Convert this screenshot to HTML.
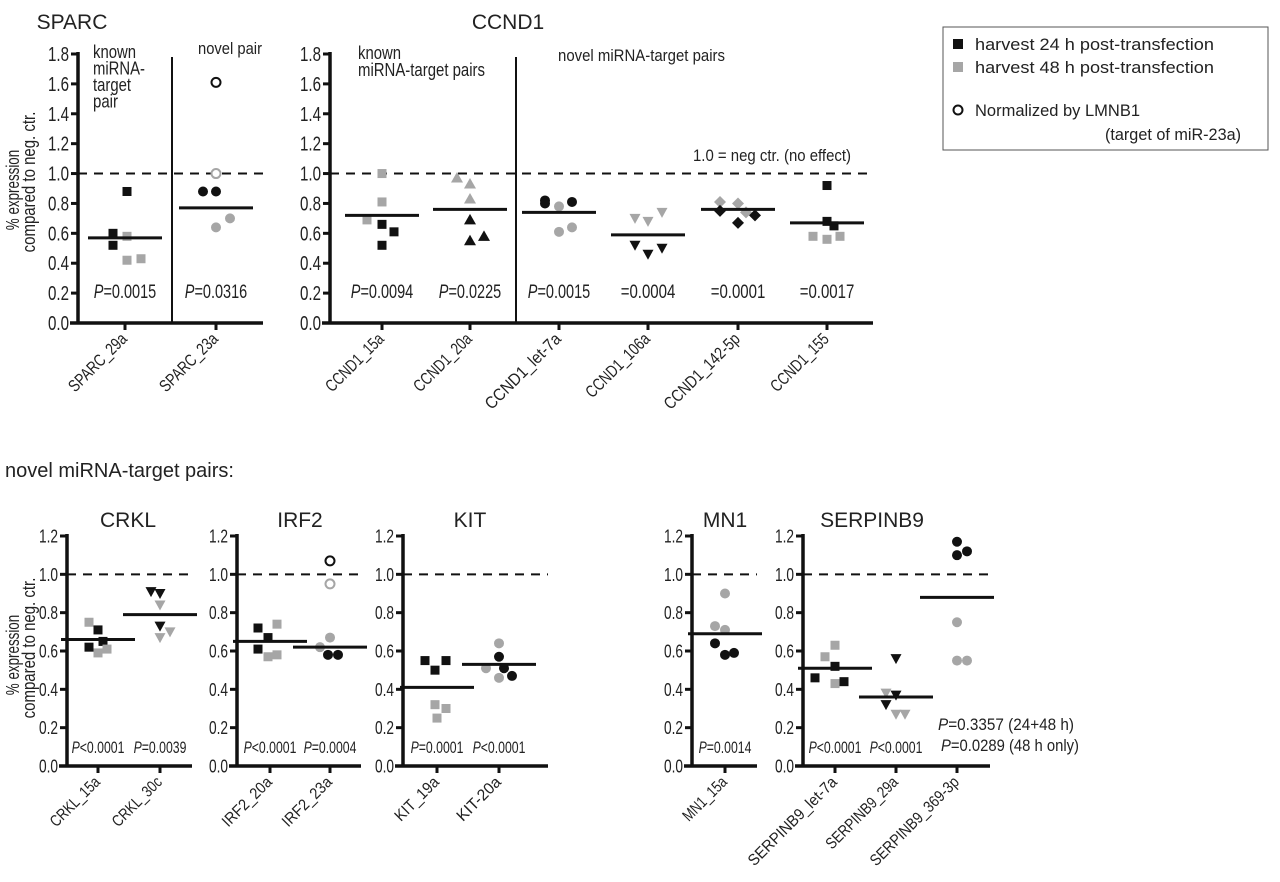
<!DOCTYPE html>
<html><head><meta charset="utf-8"><style>
body{margin:0;background:#fff}
svg{display:block;font-family:"Liberation Sans",sans-serif}
</style></head><body>
<svg id="fig" width="1280" height="882" viewBox="0 0 1280 882"></svg>
<script>
// ---- data ----
const categories = ["SPARC_29a","SPARC_23a","CCND1_15a","CCND1_20a","CCND1_let-7a","CCND1_106a","CCND1_142-5p","CCND1_155",
 "CRKL_15a","CRKL_30c","IRF2_20a","IRF2_23a","KIT_19a","KIT-20a","MN1_15a","SERPINB9_let-7a","SERPINB9_29a","SERPINB9_369-3p"];
const values = [
 [0.88,0.60,0.52,0.58,0.42,0.43],
 [1.61,1.00,0.88,0.88,0.64,0.70],
 [1.00,0.81,0.69,0.66,0.61,0.52],
 [0.97,0.93,0.83,0.69,0.55,0.58],
 [0.82,0.80,0.78,0.81,0.61,0.64],
 [0.70,0.68,0.74,0.52,0.46,0.50],
 [0.81,0.80,0.74,0.75,0.67,0.72],
 [0.92,0.68,0.65,0.58,0.56,0.58],
 [0.75,0.71,0.65,0.62,0.59,0.61],
 [0.91,0.90,0.84,0.73,0.67,0.70],
 [0.72,0.74,0.67,0.61,0.57,0.58],
 [1.07,0.95,0.67,0.62,0.58,0.58],
 [0.55,0.55,0.50,0.32,0.30,0.25],
 [0.64,0.57,0.51,0.51,0.46,0.47],
 [0.90,0.73,0.71,0.64,0.58,0.59],
 [0.63,0.57,0.52,0.46,0.43,0.44],
 [0.56,0.38,0.37,0.32,0.27,0.27],
 [1.17,1.10,1.12,0.75,0.55,0.55]];
const shades = [
 ["k","k","k","g","g","g"],["ok","og","k","k","g","g"],["g","g","g","k","k","k"],["g","g","g","k","k","k"],
 ["k","k","g","k","g","g"],["g","g","g","k","k","k"],["g","g","g","k","k","k"],["k","k","k","g","g","g"],
 ["g","k","k","k","g","g"],["k","k","g","k","g","g"],["k","g","k","k","g","g"],["ok","og","g","g","k","k"],
 ["k","k","k","g","g","g"],["g","k","g","k","g","k"],["g","g","g","k","k","k"],["g","g","k","k","g","k"],
 ["k","g","k","k","g","g"],["k","k","k","g","g","g"]];
const jitter = [
 [0.2,-1.2,-1.2,0.2,0.2,1.6],[0,0,-1.3,0,0,1.4],[0,0,-1.5,0,1.2,0],[-1.3,0,0,0,0,1.4],
 [-1.4,-1.4,0,1.3,0,1.3],[-1.3,0,1.4,-1.3,0,1.4],[-1.8,0,0.8,-1.8,0,1.7],[0,0,0.7,-1.4,0,1.3],
 [-0.9,0,0.5,-0.9,0,0.9],[-0.9,0,0,0,0,1],[-1.2,0.7,-0.2,-1.2,-0.2,0.7],[0,0,0,-1,-0.2,0.8],
 [-1.2,0.9,-0.2,-0.2,0.9,0],[0,0,-1.3,0.5,0,1.3],[0,-1,0,-1,0,0.9],[0,-1,0,-2,0,0.9],[0,-1,0,-1,0,0.9],[0,0,1,0,0,1]];
const shapes = ["sq","c","sq","tu","c","td","d","sq","sq","td","sq","c","sq","c","c","sq","td","c"];
const means = [0.57,0.77,0.72,0.76,0.74,0.59,0.76,0.67,0.66,0.79,0.65,0.62,0.41,0.53,0.69,0.51,0.36,0.88];
const pvals = ["P=0.0015","P=0.0316","P=0.0094","P=0.0225","P=0.0015","=0.0004","=0.0001","=0.0017",
 "P<0.0001","P=0.0039","P<0.0001","P=0.0004","P=0.0001","P<0.0001","P=0.0014","P<0.0001","P<0.0001",""];
const topTicks = [0,0.2,0.4,0.6,0.8,1.0,1.2,1.4,1.6,1.8];
const botTicks = [0,0.2,0.4,0.6,0.8,1.0,1.2];

// ---- layout ----
const panels = [
 {name:"sparc",ax:78,right:263,y0:323,y1:54,vmax:1.8,ticks:topTicks,cx:[125,216],cats:[0,1]},
 {name:"ccnd1",ax:330,right:873,y0:323,y1:54,vmax:1.8,ticks:topTicks,cx:[382,470,559,648,738,827],cats:[2,3,4,5,6,7]},
 {name:"crkl",ax:67,right:192,y0:766,y1:536,vmax:1.2,ticks:botTicks,cx:[98,160],cats:[8,9]},
 {name:"irf2",ax:237,right:361,y0:766,y1:536,vmax:1.2,ticks:botTicks,cx:[270,330],cats:[10,11]},
 {name:"kit",ax:403,right:548,y0:766,y1:536,vmax:1.2,ticks:botTicks,cx:[437,499],cats:[12,13]},
 {name:"mn1",ax:692,right:757,y0:766,y1:536,vmax:1.2,ticks:botTicks,cx:[725],cats:[14]},
 {name:"serpinb9",ax:803,right:990,y0:766,y1:536,vmax:1.2,ticks:botTicks,cx:[835,896,957],cats:[15,16,17]}];

const svg=document.getElementById('fig');const NS="http://www.w3.org/2000/svg";
function mk(tag,attrs,parent,txt){const e=document.createElementNS(NS,tag);for(const k in attrs)e.setAttribute(k,attrs[k]);if(txt!==undefined)e.textContent=txt;(parent||svg).appendChild(e);return e;}
const K="#111",G="#a6a6a6";
function marker(g,shape,shade,x,y){
 const col=shade.endsWith("k")?K:G; const open=shade[0]==="o"; let e;
 if(shape==="c"){e=mk("circle",{cx:x,cy:y,r:open?4.5:5,fill:open?"#fff":col,stroke:open?col:"none","stroke-width":2},g);}
 else if(shape==="sq"){e=mk("rect",{x:x-4.5,y:y-4.5,width:9,height:9,fill:col},g);}
 else if(shape==="tu"){e=mk("polygon",{points:`${x},${y-6} ${x+6},${y+4.5} ${x-6},${y+4.5}`,fill:col},g);}
 else if(shape==="td"){e=mk("polygon",{points:`${x-5.5},${y-4.5} ${x+5.5},${y-4.5} ${x},${y+5.5}`,fill:col},g);}
 else {e=mk("polygon",{points:`${x},${y-6} ${x+6},${y} ${x},${y+6} ${x-6},${y}`,fill:col},g);}
 
 
}
panels.forEach(p=>{
 const yS=v=>p.y0-(v/p.vmax)*(p.y0-p.y1);
 const big=p.vmax>1.5;
 const g=mk("g",{},svg);
 
 
 const dl=mk("line",{x1:p.ax,x2:p.right,y1:yS(1),y2:yS(1),stroke:K,"stroke-width":2,"stroke-dasharray":"9,7"},g);
 
 
 const ya=mk("line",{x1:p.ax,x2:p.ax,y1:p.y1-2,y2:p.y0+1.5,stroke:K,"stroke-width":3.5},g);
 
 
 const xa=mk("line",{x1:p.ax-8,x2:p.right,y1:p.y0,y2:p.y0,stroke:K,"stroke-width":3.5},g);
 
 
 p.ticks.forEach(t=>{
  mk("line",{x1:p.ax-7,x2:p.ax,y1:yS(t),y2:yS(t),stroke:K,"stroke-width":3},g);
  const tl=mk("text",{x:p.ax-9,y:yS(t)+(big?7:6.5),"text-anchor":"end","font-size":big?20:18,fill:"#222",textLength:big?21:19,lengthAdjust:"spacingAndGlyphs"},g,t.toFixed(1));
  
  
 });
 p.cats.forEach((ci,j)=>{
  const cx=p.cx[j];
  mk("line",{x1:cx,x2:cx,y1:p.y0,y2:p.y0+7,stroke:K,"stroke-width":3},g);
  const s0=categories[ci];
  const lab=mk("text",{x:cx+3,y:p.y0+17,"text-anchor":"end","font-size":big?17:16,fill:"#222",textLength:s0.length*(big?8.3:7.9),lengthAdjust:"spacingAndGlyphs",transform:`rotate(-45 ${cx+3} ${p.y0+17})`},g,s0);
  
  
  values[ci].forEach((v,k)=>marker(g,shapes[ci],shades[ci][k],cx+jitter[ci][k]*10,yS(v)));
  const ml=mk("line",{x1:cx-37,x2:cx+37,y1:yS(means[ci]),y2:yS(means[ci]),stroke:K,"stroke-width":3},g);
  
  
  if(pvals[ci]){
   const s=pvals[ci];
   const pt=mk("text",{x:cx,y:p.y0-(big?25:13),"text-anchor":"middle","font-size":big?19:17,fill:"#222",textLength:s.length*(big?7.8:6.6),lengthAdjust:"spacingAndGlyphs"},g);
   
   
   if(s[0]==="P"){mk("tspan",{"font-style":"italic"},pt,"P");mk("tspan",{},pt,s.slice(1));}else pt.textContent=s;
  }
 });
});
function txt(x,y,s,size,name,anchor,extra){const t=mk("text",Object.assign({x:x,y:y,"font-size":size,fill:"#222","text-anchor":anchor||"start"},extra||{}),svg,s);
 
 return t;}
const cond=(n)=>({textLength:n,lengthAdjust:"spacingAndGlyphs"});
[[172,57],[516,57]].forEach(d=>{const l=mk("line",{x1:d[0],x2:d[0],y1:d[1],y2:323,stroke:K,"stroke-width":2});
 
 });
txt(72,29,"SPARC",21,"sparc-title","middle");
txt(508,29,"CCND1",21,"ccnd1-title","middle");
txt(5,477,"novel miRNA-target pairs:",20,"section-title");
txt(128,527,"CRKL",21,"crkl-title","middle");
txt(300,527,"IRF2",21,"irf2-title","middle");
txt(470,527,"KIT",21,"kit-title","middle");
txt(725,527,"MN1",21,"mn1-title","middle");
txt(872,527,"SERPINB9",21,"serpinb9-title","middle");
[["known",43],["miRNA-",52],["target",38],["pair",25]].forEach((s,i)=>txt(93,58+i*16.5,s[0],18,"known-pair-note","start",cond(s[1])));
txt(198,54,"novel pair",17,"novel-pair-note","start",cond(64));
txt(358,59,"known",18,"known-pairs-note","start",cond(43));
txt(358,76,"miRNA-target pairs",18,"known-pairs-note","start",cond(127));
txt(558,61,"novel miRNA-target pairs",17,"novel-pairs-note","start",cond(167));
txt(693,161,"1.0 = neg ctr. (no effect)",17,"neg-ctr-note","start",cond(158));
const p1=txt(938,730,"",17,"p-value","start",cond(136));mk("tspan",{"font-style":"italic"},p1,"P");mk("tspan",{},p1,"=0.3357 (24+48 h)");
const p2=txt(941,751,"",17,"p-value","start",cond(138));mk("tspan",{"font-style":"italic"},p2,"P");mk("tspan",{},p2,"=0.0289 (48 h only)");
[["% expression",19,190],["compared to neg. ctr.",35,182],["% expression",19,655],["compared to neg. ctr.",35,648]].forEach(a=>
 txt(0,0,a[0],18,"y-axis-title","middle",Object.assign({transform:`translate(${a[1]},${a[2]}) rotate(-90)`},cond(a[0].length*6.7))));
const lg=mk("g",{});


mk("rect",{x:943,y:27,width:325,height:123,fill:"#fff",stroke:"#555","stroke-width":1},lg);
mk("rect",{x:953,y:39,width:10,height:10,fill:K},lg);
mk("rect",{x:953,y:62,width:10,height:10,fill:G},lg);
mk("circle",{cx:958,cy:110,r:4.5,fill:"#fff",stroke:K,"stroke-width":2},lg);
txt(975,50,"harvest 24 h post-transfection",17,"legend-entry","start",cond(239));
txt(975,73,"harvest 48 h post-transfection",17,"legend-entry","start",cond(239));
txt(975,116,"Normalized by LMNB1",17,"legend-entry","start",cond(165));
txt(1241,140,"(target of miR-23a)",17,"legend-entry","end",cond(136));
</script>
</body></html>
